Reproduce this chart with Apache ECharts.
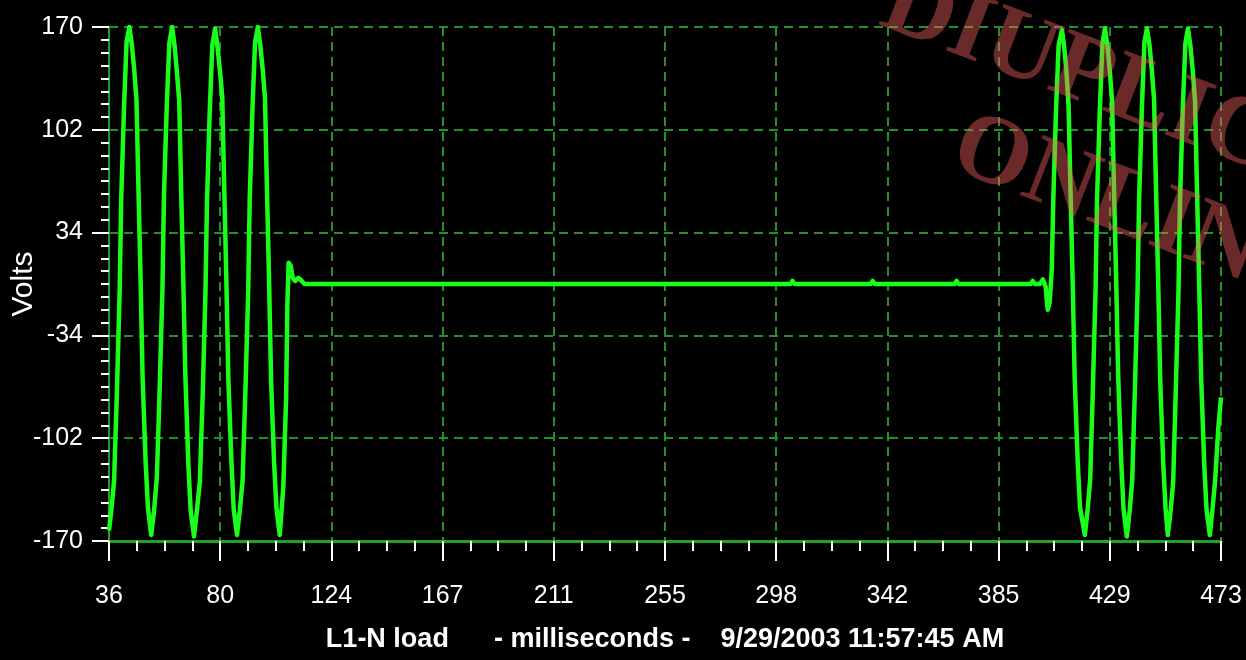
<!DOCTYPE html>
<html>
<head>
<meta charset="utf-8">
<script src="https://cdn.jsdelivr.net/npm/echarts@6/dist/echarts.min.js"></script>
<style>
  html, body { margin: 0; padding: 0; background: #000; }
  #chart { width: 1246px; height: 660px; }
</style>
</head>
<body>
<div id="chart"></div>
<script>
// Axis ranges (ms, volts) and printed tick labels
const T0 = 36, T1 = 473;
const V0 = -170, V1 = 170;
const xTickLabels = ['36', '80', '124', '167', '211', '255', '298', '342', '385', '429', '473'];
const yTickLabels = ['-170', '-102', '-34', '34', '102', '170'];

// Recorded trace: [milliseconds, volts]
// Normal supply before the interruption
const beforeDropout = [
  [36.0, -163], [36.9, -150], [38.0, -130], [39.1, -72], [40.2, -4], [40.8, 56], [41.9, 117], [42.9, 160],
  [44.0, 170], [45.0, 158], [45.9, 142], [46.8, 122], [47.5, 68], [48.4, 4], [49.2, -62], [50.4, -118], [51.3, -148],
  [52.6, -166], [53.7, -150], [54.8, -128], [55.9, -70], [57.0, -3], [57.6, 58], [58.7, 118], [59.7, 159],
  [60.8, 170], [61.8, 157], [62.7, 140], [63.6, 121], [64.3, 66], [65.2, 2], [66.0, -60], [67.2, -120], [68.1, -150],
  [69.4, -167], [70.6, -149], [71.7, -131], [72.8, -74], [73.9, -6], [74.5, 54], [75.6, 115], [76.6, 158],
  [77.7, 169], [78.7, 156], [79.6, 141], [80.5, 124], [81.2, 70], [82.1, 4], [82.9, -63], [84.1, -117], [85.0, -149],
  [86.3, -166], [87.4, -150], [88.5, -130], [89.6, -71], [90.7, -5], [91.3, 56], [92.4, 117], [93.4, 160],
  [94.5, 170], [95.5, 157], [96.4, 142], [97.3, 123], [98.0, 68], [98.9, 3], [99.7, -64], [100.9, -119], [101.8, -148],
  [103.1, -166], [104.5, -134], [105.6, -76], [106.1, -13], [106.6, 14]
];
// Interruption: the line sits at zero with small blips
const dropout = [
  [107.4, 12], [108.2, 4], [109.2, 2], [110.4, 4], [111.2, 3], [112.8, 0],
  [303.8, 0], [304.6, 2], [305.4, 0], [335.3, 0], [336.1, 2], [336.9, 0],
  [352.2, 0], [352.6, 1], [353.0, 0], [368.3, 0], [369.1, 2], [369.9, 0],
  [398.2, 0], [399.0, 2], [399.8, 0], [401.8, 0], [403.0, 3], [404.1, -2], [404.9, -17], [405.7, -12]
];
// Supply restored
const afterDropout = [
  [406.5, 10], [407.1, 56], [408.2, 117], [409.2, 158], [410.5, 168], [411.3, 158], [412.2, 142], [413.1, 118],
  [413.8, 66], [414.7, 2], [415.5, -62], [416.7, -118], [417.6, -148],
  [419.5, -166], [420.6, -149], [421.6, -129], [422.6, -72], [423.7, -4], [424.3, 57], [425.4, 116], [426.4, 159],
  [427.4, 169], [428.4, 157], [429.3, 141], [430.2, 121], [430.9, 67], [431.8, 3], [432.6, -61], [433.8, -118], [434.7, -149],
  [436.0, -167], [437.1, -150], [438.1, -130], [439.1, -73], [440.2, -5], [440.8, 55], [441.9, 116], [442.9, 160],
  [443.9, 169], [444.9, 158], [445.8, 142], [446.7, 122], [447.4, 68], [448.3, 3], [449.1, -63], [450.3, -119], [451.2, -148],
  [452.1, -166], [453.2, -150], [454.2, -131], [455.2, -72], [456.3, -4], [456.9, 56], [458.0, 117], [459.0, 159],
  [460.0, 169], [461.0, 157], [461.9, 141], [462.8, 121], [463.5, 67], [464.4, 2], [465.2, -62], [466.4, -119], [467.3, -149],
  [468.6, -166], [469.6, -150], [470.7, -130], [471.9, -96], [473.0, -75]
];

// The axes run from zero so the fixed intervals line up with the range ends;
// values are shifted by the range start and labels map back to the printed ticks.
const X_STEP = (T1 - T0) / (xTickLabels.length - 1);
const Y_STEP = (V1 - V0) / (yTickLabels.length - 1);
const trace = beforeDropout.concat(dropout, afterDropout).map(p => [p[0] - T0, p[1] - V0]);

const SANS = "'Liberation Sans', Arial, sans-serif";
const SERIF = "'Liberation Serif', 'DejaVu Serif', serif";
const GRID_GREEN = '#23912a';
const AXIS_GREEN = '#1fa21f';
const gridLine = { show: true, lineStyle: { color: GRID_GREEN, width: 2, type: [9, 6] } };
const watermark = { fontSize: 98, fontWeight: 'bold', fontFamily: SERIF, fill: 'rgba(255, 100, 100, 0.42)', verticalAlign: 'middle' };

const chart = echarts.init(document.getElementById('chart'), null, { renderer: 'canvas' });
chart.setOption({
  backgroundColor: '#000',
  animation: false,
  grid: { left: 109, right: 25, top: 27, bottom: 119, containLabel: false, outerBoundsMode: 'none' },
  xAxis: [
    {
      type: 'value', min: 0, max: T1 - T0, interval: X_STEP,
      axisLine: { show: true, onZero: false, lineStyle: { color: AXIS_GREEN, width: 3 } },
      axisTick: { show: false },
      axisLabel: { show: false },
      splitLine: gridLine,
      name: 'L1-N load      - milliseconds -    9/29/2003 11:57:45 AM',
      nameLocation: 'middle',
      nameGap: 85,
      nameMoveOverlap: false,
      nameTextStyle: { color: '#fff', fontFamily: SANS, fontWeight: 'bold', fontSize: 27 }
    },
    {
      type: 'value', min: 0, max: T1 - T0, interval: X_STEP,
      position: 'bottom', offset: 6,
      axisLine: { show: false },
      axisTick: { show: true, length: 20, lineStyle: { color: '#fff', width: 2 } },
      minorTick: { show: true, splitNumber: 4, length: 10, lineStyle: { color: '#fff', width: 2 } },
      axisLabel: {
        color: '#fff', fontFamily: SANS, fontSize: 25, margin: 37,
        formatter: v => xTickLabels[Math.round(v / X_STEP)]
      },
      splitLine: { show: false }
    }
  ],
  yAxis: {
    type: 'value', min: 0, max: V1 - V0, interval: Y_STEP,
    axisLine: { show: true, onZero: false, lineStyle: { color: AXIS_GREEN, width: 2 } },
    axisTick: { show: true, length: 17, lineStyle: { color: '#fff', width: 2 } },
    minorTick: { show: true, splitNumber: 8, length: 8, lineStyle: { color: '#fff', width: 2 } },
    axisLabel: {
      color: '#fff', fontFamily: SANS, fontSize: 25, margin: 26,
      formatter: v => yTickLabels[Math.round(v / Y_STEP)]
    },
    splitLine: gridLine,
    name: 'Volts',
    nameLocation: 'middle',
    nameRotate: 90,
    nameGap: 70,
    nameMoveOverlap: false,
    nameTextStyle: { color: '#fff', fontFamily: SANS, fontSize: 30 }
  },
  series: [{
    type: 'line',
    xAxisIndex: 0,
    data: trace,
    showSymbol: false,
    lineStyle: { color: '#1aff1a', width: 4.5, join: 'round' },
    z: 3
  }],
  graphic: {
    elements: [
      {
        type: 'text', x: 886, y: 0, rotation: -21 * Math.PI / 180, z: 100,
        style: Object.assign({ text: 'DIUPLIC' }, watermark)
      },
      {
        type: 'text', x: 956, y: 143, rotation: -21 * Math.PI / 180, z: 100,
        style: Object.assign({ text: 'ONLIN' }, watermark)
      }
    ]
  }
});
</script>
</body>
</html>
